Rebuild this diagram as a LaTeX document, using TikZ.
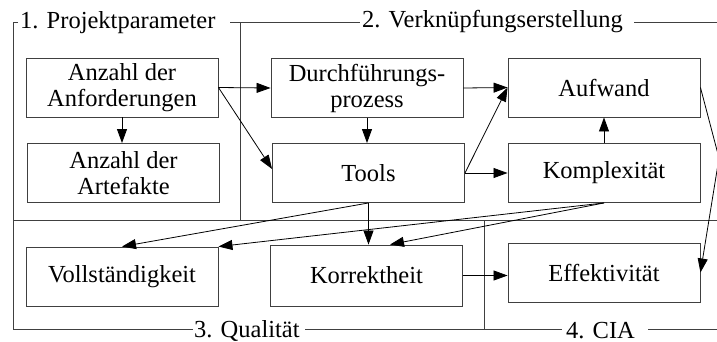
\documentclass[tikz,border=0pt]{standalone}
\usepackage{fontspec}
\setmainfont{Liberation Serif}
\usetikzlibrary{arrows.meta}
\begin{document}
\begin{tikzpicture}[x=1pt,y=-1pt,
  every node/.style={font=\fontsize{24.5}{26}\selectfont, inner sep=0pt},
  box/.style={draw=black!75, line width=0.9pt, minimum width=192pt, minimum height=59pt, align=center},
  frame/.style={draw=black!75, line width=0.9pt},
  conn/.style={draw=black, line width=0.8pt, -{Triangle[length=14pt,width=10pt]}},
  lbl/.style={anchor=base west}]
\useasboundingbox (0,0) rectangle (717,341);

% frames
\draw[frame] (18,22) -- (13,22) -- (13,329) -- (193,329);
\draw[frame] (230,22) -- (360,22);
\draw[frame] (634,22) -- (717,22);
\draw[frame] (240,22) -- (240,220);
\draw[frame] (13,220) -- (717,220);
\draw[frame] (484,220) -- (484,329);
\draw[frame] (305,329) -- (562,329);
\draw[frame] (648,329) -- (717,329);

\node[lbl] (l1) at (20,28) {1. Projektparameter};
\node[lbl] (l2) at (362,27) {2. Verknüpfungserstellung};
\node[lbl] (l3) at (194,337) {3. Qualität};
\node[lbl] (l4) at (566,338) {4. CIA};

% boxes
\node[box] (anf) at (122,87.5) {Anzahl der\\Anforderungen};
\node[box] (art) at (123.5,173) {Anzahl der\\Artefakte};
\node[box] (dur) at (367,88) {Durchführungs-\\prozess};
\node[box] (tools) at (368.5,173) {Tools};
\node[box] (auf) at (604,87.5) {Aufwand};
\node[box] (kom) at (604,173) {Komplexität};
\node[box] (vol) at (122,276.5) {Vollständigkeit};
\node[box, minimum height=61pt] (kor) at (366.5,275.5) {Korrektheit};
\node[box] (eff) at (604,272.5) {Effektivität};

% connectors
\draw[conn] (anf.east) -- (dur.west);
\draw[conn] (anf.east) -- ([yshift=4pt]tools.west);
\draw[conn] (anf.south) -- (anf.south |- art.north);
\draw[conn] (dur.south) -- (dur.south |- tools.north);
\draw[conn] (dur.east) -- (auf.west);
\draw[conn] (tools.east) -- (auf.west);
\draw[conn] (tools.east) -- (tools.east -| kom.west);
\draw[conn] (kom.north) -- (auf.south);
\coordinate (bend) at (719,158);
\draw[conn] (auf.east) -- (bend) -- (eff.east);
\draw[conn] (tools.south) -- (vol.north);
\draw[conn] (tools.south) -- (tools.south |- kor.north);
\draw[conn] (kom.south) -- (vol.north east);
\draw[conn] (kom.south) -- ([xshift=23.5pt]kor.north);
\draw[conn] (kor.east) -- (kor.east -| eff.west);
\end{tikzpicture}
\end{document}
